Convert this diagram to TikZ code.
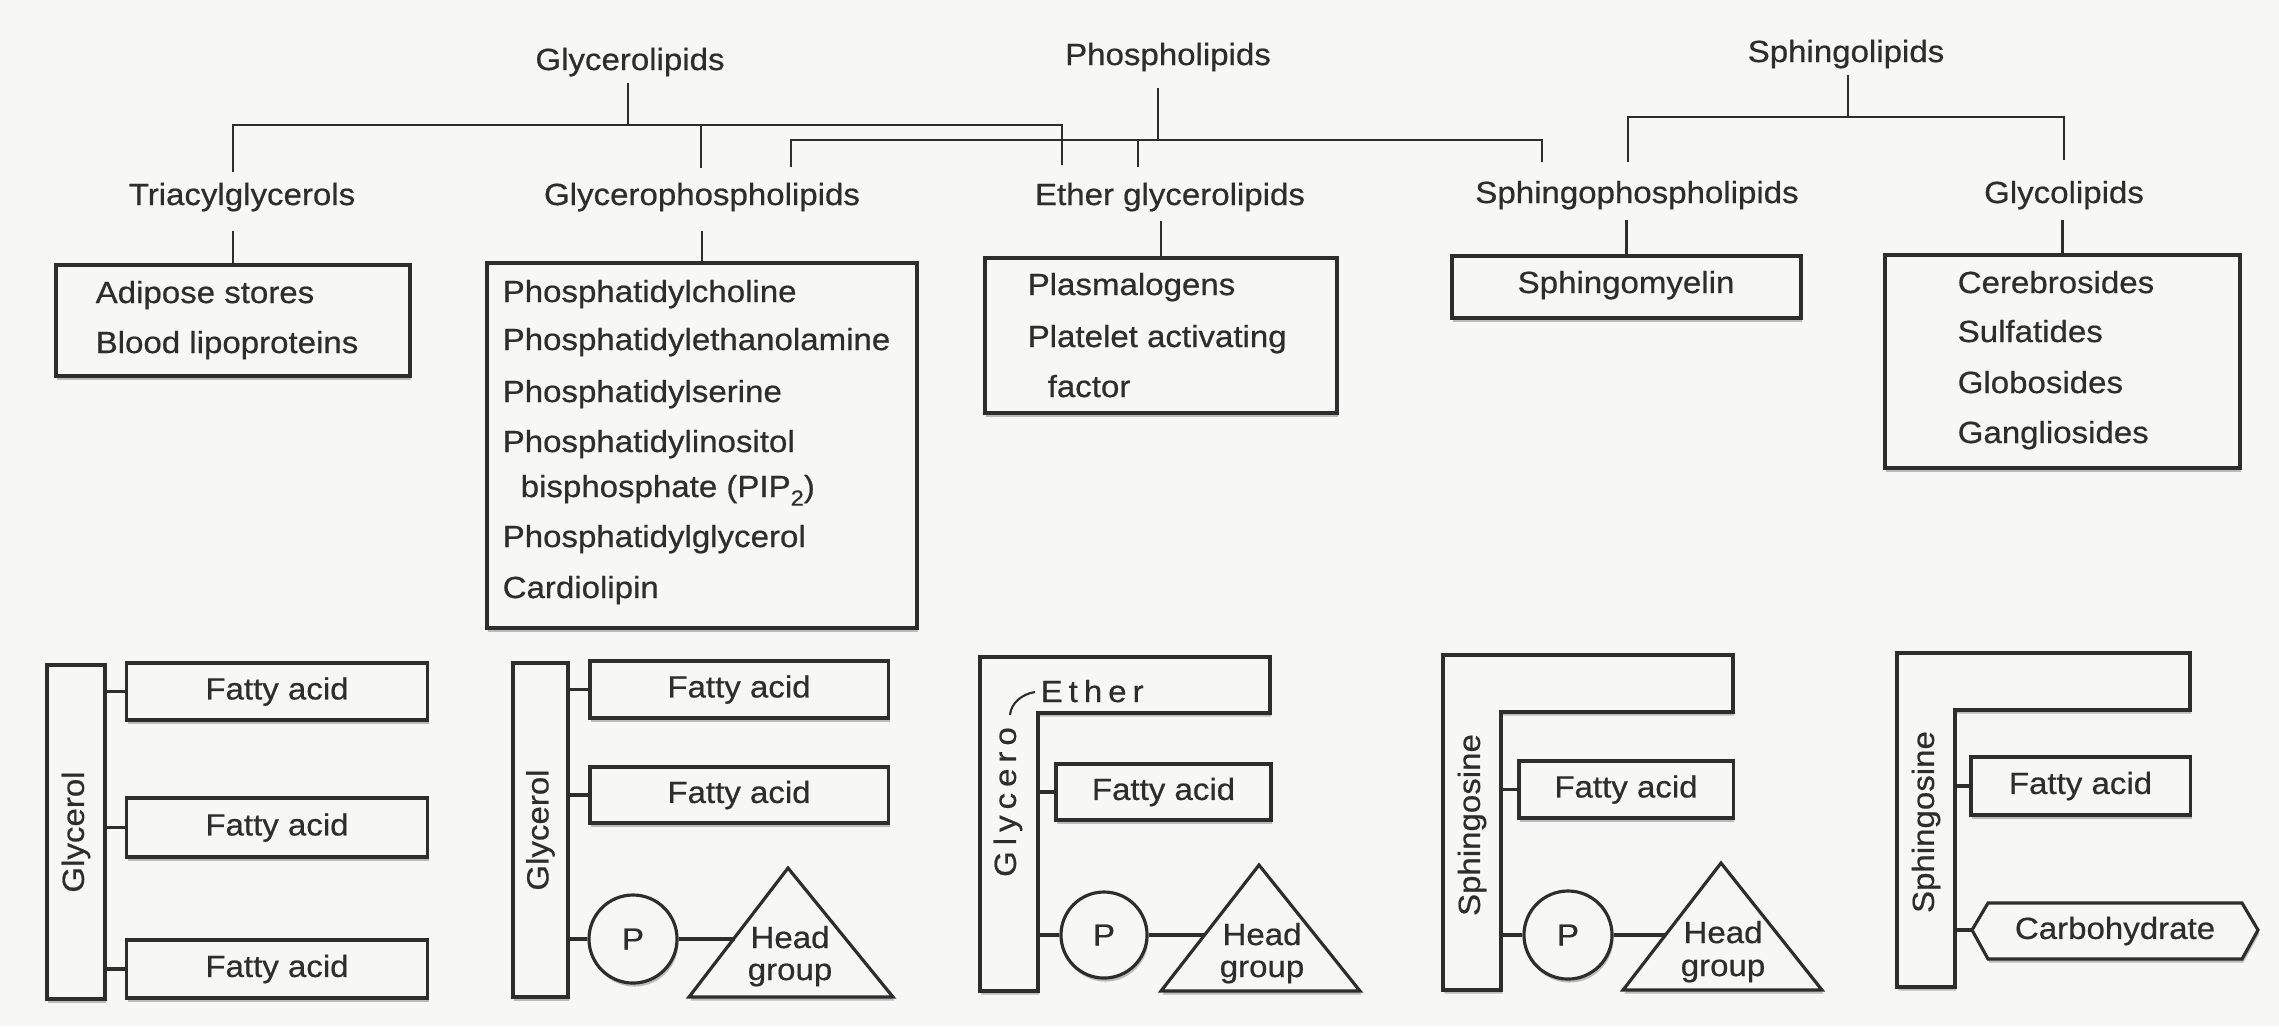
\documentclass[tikz,border=0pt]{standalone}
\usepackage{fontspec}
\setmainfont{Liberation Sans}[FakeStretch=1.08, FakeBold=0.6]
\usetikzlibrary{shadows,fit}
\definecolor{bgc}{RGB}{247,247,246}
\definecolor{ink}{RGB}{45,45,45}
\newcommand\subtwo{\raisebox{-0.28em}{\fontsize{6.2pt}{6.2pt}\selectfont 2}}
\newcommand\ksp{\kern1.7pt}
\tikzset{
  txt/.style={font=\fontsize{8.7pt}{10pt}\selectfont, text=ink, inner sep=0pt},
  shad/.style={drop shadow={shadow xshift=0.4pt, shadow yshift=-1pt, opacity=0.3, fill=black!80}},
  boxstyle/.style={txt, draw=ink, line width=0.9pt, fill=bgc, shad},
  outl/.style={draw=ink, line width=0.9pt, fill=bgc, shad, line join=miter},
  treeline/.style={draw=ink, line width=0.6pt},
  bondline/.style={draw=ink, line width=0.9pt},
  item/.style={txt, anchor=base west},
}
\begin{document}
\begin{tikzpicture}[x=0.01cm, y=-0.01cm]
\fill[bgc] (0,0) rectangle (2279,1026);
\useasboundingbox (0,0) rectangle (2279,1026);

% ---------- top level ----------
\node[txt, anchor=base] (gl) at (630,70) {Glycerolipids};
\node[txt, anchor=base] (pl) at (1168,65) {Phospholipids};
\node[txt, anchor=base] (sl) at (1846,62) {Sphingolipids};

% ---------- second level ----------
\node[txt, anchor=base] (tag) at (242,205) {Triacylglycerols};
\node[txt, anchor=base] (gpl) at (702,205) {Glycerophospholipids};
\node[txt, anchor=base] (egl) at (1170,205) {Ether glycerolipids};
\node[txt, anchor=base] (spl) at (1637,203) {Sphingophospholipids};
\node[txt, anchor=base] (gcl) at (2064,203) {Glycolipids};

% ---------- tree lines ----------
\coordinate (gl-t) at (628,83);
\coordinate (gl-j) at (628,125);
\coordinate (tag-t) at (233,172);
\coordinate (gpl-t1) at (701,168);
\coordinate (egl-t1) at (1062,165);
\draw[treeline] (gl-t) -- (gl-j);
\draw[treeline] (tag-t) -- (tag-t |- gl-j) -- (egl-t1 |- gl-j) -- (egl-t1);
\draw[treeline] (gpl-t1) -- (gpl-t1 |- gl-j);

\coordinate (pl-t) at (1158,88);
\coordinate (pl-j) at (1158,140);
\coordinate (gpl-t2) at (791,167);
\coordinate (egl-t2) at (1138,167);
\coordinate (spl-t1) at (1542,162);
\draw[treeline] (pl-t) -- (pl-j);
\draw[treeline] (gpl-t2) -- (gpl-t2 |- pl-j) -- (spl-t1 |- pl-j) -- (spl-t1);
\draw[treeline] (egl-t2) -- (egl-t2 |- pl-j);

\coordinate (sl-t) at (1848,75);
\coordinate (sl-j) at (1848,117);
\coordinate (spl-t2) at (1628,162);
\coordinate (gcl-t) at (2064,160);
\draw[treeline] (sl-t) -- (sl-j);
\draw[treeline] (spl-t2) -- (spl-t2 |- sl-j) -- (gcl-t |- sl-j) -- (gcl-t);

% ---------- example boxes ----------
\node[boxstyle, fit={(56,265) (410,376)}] (adip) {};
\node[boxstyle, fit={(487,263) (917,628)}] (gplbox) {};
\node[boxstyle, fit={(985,258) (1337,413)}] (ethbox) {};
\node[boxstyle, fit={(1452,256) (1801,318)}] (smbox) {};
\node[boxstyle, fit={(1885,255) (2240,468)}] (gcbox) {};

\draw[treeline] (adip.north) -- ++(0,-32);
\draw[treeline] (gplbox.north) -- ++(0,-30);
\draw[treeline] (ethbox.north) -- ++(0,-35);
\draw[treeline] (smbox.north) -- ++(0,-34);
\draw[treeline] (gcbox.north) -- ++(0,-33);

\node[item] (a1) at (95,303) {Adipose stores};
\node[item] (a2) at (95,353) {Blood lipoproteins};

\node[item] (b1) at (502,302) {Phosphatidylcholine};
\node[item] (b2) at (502,350) {Phosphatidylethanolamine};
\node[item] (b3) at (502,402) {Phosphatidylserine};
\node[item] (b4) at (502,452) {Phosphatidylinositol};
\node[item] (b5) at (520,497) {bisphosphate (PIP\subtwo)};
\node[item] (b6) at (502,547) {Phosphatidylglycerol};
\node[item] (b7) at (502,598) {Cardiolipin};

\node[item] (c1) at (1027,295) {Plasmalogens};
\node[item] (c2) at (1027,347) {Platelet activating};
\node[item] (c3) at (1047,397) {factor};

\node[txt, anchor=base] (d1) at (1626,293) {Sphingomyelin};

\node[item] (e1) at (1957,293) {Cerebrosides};
\node[item] (e2) at (1957,342) {Sulfatides};
\node[item] (e3) at (1957,393) {Globosides};
\node[item] (e4) at (1957,443) {Gangliosides};

% ---------- bottom: triacylglycerol ----------
\node[boxstyle, fit={(47,665) (105,999)}] (gly1) {};
\node[txt, rotate=90] (gly1t) at (gly1.center) {Glycerol};
\node[boxstyle, minimum width=3.00cm, minimum height=0.57cm] (fa1) at (277,691.5) {Fatty acid};
\node[boxstyle, minimum width=3.00cm, minimum height=0.59cm] (fa2) at (277,827.5) {Fatty acid};
\node[boxstyle, minimum width=3.00cm, minimum height=0.58cm] (fa3) at (277,969) {Fatty acid};
\draw[bondline] (gly1.east |- fa1.west) -- (fa1.west);
\draw[bondline] (gly1.east |- fa2.west) -- (fa2.west);
\draw[bondline] (gly1.east |- fa3.west) -- (fa3.west);

% ---------- bottom: glycerophospholipid ----------
\node[boxstyle, fit={(513,663) (568,997)}] (gly2) {};
\node[txt, rotate=90] (gly2t) at (gly2.center) {Glycerol};
\node[boxstyle, minimum width=2.98cm, minimum height=0.57cm] (fa4) at (739,689.5) {Fatty acid};
\node[boxstyle, minimum width=2.98cm, minimum height=0.56cm] (fa5) at (739,795) {Fatty acid};
\node[boxstyle, circle, minimum size=0.88cm] (p1) at (633,939) {P};
\draw[bondline] (gly2.east |- fa4.west) -- (fa4.west);
\draw[bondline] (gly2.east |- fa5.west) -- (fa5.west);
\draw[bondline] (gly2.east |- p1.west) -- (p1.west);
\coordinate (t1a) at (689,997);
\coordinate (t1b) at (788,868);
\coordinate (t1c) at (893,997);
\coordinate (t1e) at (735,939);
\draw[outl] (t1a) -- (t1b) -- (t1c) -- cycle;
\draw[bondline] (p1.east) -- (t1e);
\node[txt, anchor=base] (h1a) at (790,948) {Head};
\node[txt, anchor=base] (h1b) at (790,980) {group};

% ---------- bottom: ether glycerolipid ----------
\coordinate (eo) at (980,657);
\coordinate (ein) at (1038,713);
\draw[outl] (eo) -- (1270,657) -- (1270,713) -- (ein) -- (1038,991) -- (980,991) -- cycle;
\node[txt, rotate=90] (glyc) at (1008,802) {G\ksp l\ksp y\ksp c\ksp e\ksp r\ksp o};
\node[txt, anchor=base west] (ethr) at (1040,702) {E\ksp t\ksp h\ksp e\ksp r};
\coordinate (ec1) at (1010,715);
\coordinate (ec2) at (1035,692);
\draw[treeline] (ec1) .. controls (1011,703) and (1022,694) .. (ec2);
\node[boxstyle, minimum width=2.15cm, minimum height=0.56cm] (fa6) at (1163.5,792) {Fatty acid};
\node[boxstyle, circle, minimum size=0.86cm] (p2) at (1104,935) {P};
\draw[bondline] (ein |- fa6.west) -- (fa6.west);
\draw[bondline] (ein |- p2.west) -- (p2.west);
\coordinate (t2a) at (1161,991);
\coordinate (t2b) at (1259,865);
\coordinate (t2c) at (1360,991);
\coordinate (t2e) at (1205,935);
\draw[outl] (t2a) -- (t2b) -- (t2c) -- cycle;
\draw[bondline] (p2.east) -- (t2e);
\node[txt, anchor=base] (h2a) at (1262,945) {Head};
\node[txt, anchor=base] (h2b) at (1262,977) {group};

% ---------- bottom: sphingomyelin ----------
\coordinate (so) at (1443,655);
\coordinate (sin) at (1501,712);
\draw[outl] (so) -- (1733,655) -- (1733,712) -- (sin) -- (1501,990) -- (1443,990) -- cycle;
\node[txt, rotate=90] (sph1) at (1472,825) {Sphingosine};
\node[boxstyle, minimum width=2.14cm, minimum height=0.57cm] (fa7) at (1626,789.5) {Fatty acid};
\node[boxstyle, circle, minimum size=0.88cm] (p3) at (1568,935) {P};
\draw[bondline] (sin |- fa7.west) -- (fa7.west);
\draw[bondline] (sin |- p3.west) -- (p3.west);
\coordinate (t3a) at (1623,990);
\coordinate (t3b) at (1721,863);
\coordinate (t3c) at (1822,990);
\coordinate (t3e) at (1665,935);
\draw[outl] (t3a) -- (t3b) -- (t3c) -- cycle;
\draw[bondline] (p3.east) -- (t3e);
\node[txt, anchor=base] (h3a) at (1723,943) {Head};
\node[txt, anchor=base] (h3b) at (1723,976) {group};

% ---------- bottom: glycolipid ----------
\coordinate (go) at (1897,653);
\coordinate (gin) at (1955,710);
\draw[outl] (go) -- (2190,653) -- (2190,710) -- (gin) -- (1955,987) -- (1897,987) -- cycle;
\node[txt, rotate=90] (sph2) at (1926,822) {Sphingosine};
\node[boxstyle, minimum width=2.19cm, minimum height=0.58cm] (fa8) at (2080.5,786) {Fatty acid};
\draw[bondline] (gin |- fa8.west) -- (fa8.west);
\coordinate (hxl) at (1972,930);
\draw[outl] (hxl) -- (1988,903) -- (2242,903) -- (2258,930) -- (2242,959) -- (1988,959) -- cycle;
\node[txt] (carb) at (2115,931) {Carbohydrate};
\draw[bondline] (gin |- hxl) -- (hxl);
\end{tikzpicture}
\end{document}
